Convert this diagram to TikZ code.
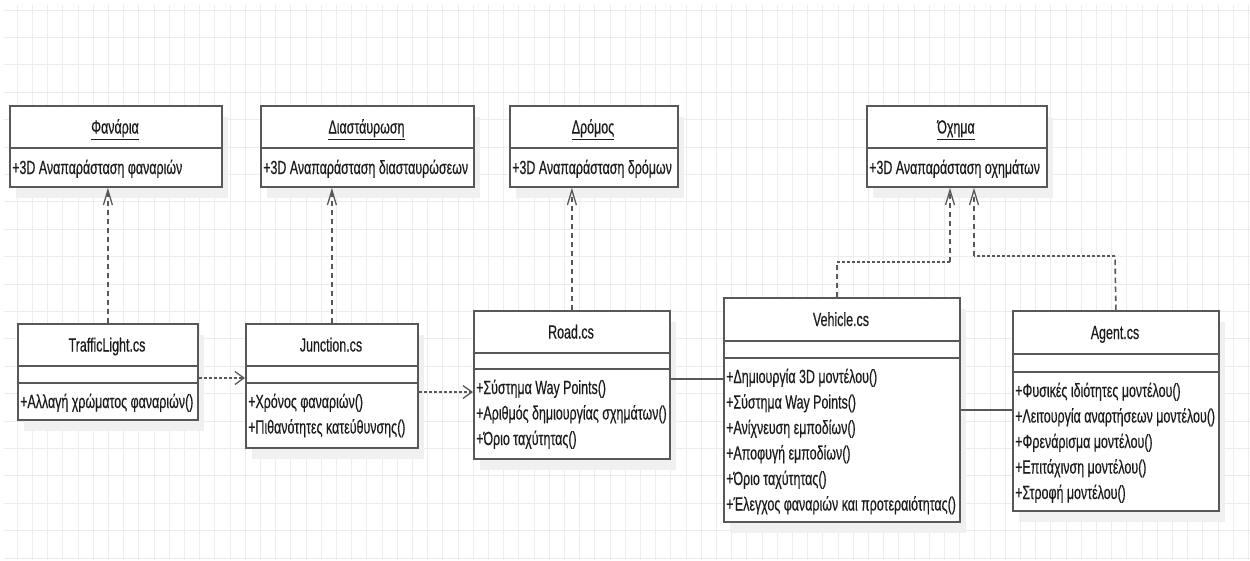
\documentclass[tikz,border=0pt]{standalone}
\usepackage{fontspec}
\newfontfamily\umlfont{Liberation Sans}[FakeStretch=0.655,FakeBold=0.35]
\usetikzlibrary{arrows.meta}

\definecolor{gridc}{RGB}{236,236,236}
\definecolor{shadowc}{RGB}{240,240,240}
\definecolor{edge}{RGB}{88,88,88}
\definecolor{ink}{RGB}{28,28,28}

\tikzset{
  classbox/.style={draw=edge, line width=1.8pt, fill=white, inner sep=0pt, anchor=north west},
  divider/.style={draw=edge, line width=1.8pt},
  umltext/.style={font=\umlfont\fontsize{19}{22}\selectfont, text=ink, inner sep=0pt},
  realizev/.style={draw=edge, line width=1.6pt, dash pattern=on 5.5pt off 3.5pt},
  realizeh/.style={draw=edge, line width=1.8pt, dash pattern=on 2.8pt off 2.2pt},
  dependh/.style={draw=edge, line width=1.8pt, dash pattern=on 2.8pt off 2.2pt},
  assoc/.style={draw=edge, line width=1.8pt},
  uptip/.style={-{Straight Barb[length=15pt,width=9pt,line width=1.3pt]}},
  sidetip/.style={-{Straight Barb[length=9pt,width=13pt,line width=1.3pt]}},
}

% class with name, attribute and operation compartments
% #1 name, #2 left, #3 top, #4 right, #5 first divider, #6 second divider, #7 bottom, #8 title, #9 operations
\newcommand\umlclass[9]{%
  \fill[shadowc] ({#2+7},{#3+12}) rectangle ({#4+7},{#7+12});
  \node[classbox, minimum width={(#4-#2)*1pt}, minimum height={(#7-#3)*1pt}] (#1) at (#2,#3) {};
  \draw[divider] (#2,#5) -- (#4,#5);
  \draw[divider] (#2,#6) -- (#4,#6);
  \node[umltext, anchor=base] (#1-title) at ({(#2+#4)/2},{(#3+#5)/2+7}) {#8};
  \foreach \m [count=\i from 0] in {#9} {
    \node[umltext, anchor=base west] (#1-op\i) at ({#2+3},{#6+25+25.5*\i}) {\m};
  }
}

% concept box: underlined name and one attribute
% #1 name, #2 left, #3 top, #4 right, #5 divider, #6 bottom, #7 title, #8 attribute
\newcommand\umlconcept[8]{%
  \fill[shadowc] ({#2+7},{#3+12}) rectangle ({#4+7},{#6+12});
  \node[classbox, minimum width={(#4-#2)*1pt}, minimum height={(#6-#3)*1pt}] (#1) at (#2,#3) {};
  \draw[divider] (#2,#5) -- (#4,#5);
  \node[umltext, anchor=base] (#1-title) at ({(#2+#4)/2},{(#3+#5)/2+7}) {\underline{#7}};
  \node[umltext, anchor=base west] (#1-attr) at ({#2+3},{(#5+#6)/2+7}) {#8};
}

\begin{document}
\begin{tikzpicture}[x=1pt,y=-1pt]
  \useasboundingbox (0,0) rectangle (1250,560);
  \fill[white] (0,0) rectangle (1250,560);

  % background grid
  \foreach \k in {0,...,81}
    \draw[gridc, line width=0.9pt] ({17.3+15.2*\k},5) -- ({17.3+15.2*\k},560);
  \foreach \k in {0,...,20}
    \draw[gridc, line width=0.9pt] (4,{10+27.4*\k}) -- (1250,{10+27.4*\k});

  % concepts
  \umlconcept{fan}{9}{105}{221}{148}{186}{Φανάρια}{+3D Αναπαράσταση φαναριών}
  \umlconcept{dia}{260}{105}{473}{148}{186}{Διαστάυρωση}{+3D Αναπαράσταση διασταυρώσεων}
  \umlconcept{dro}{509}{105}{677}{148}{186}{Δρόμος}{+3D Αναπαράσταση δρόμων}
  \umlconcept{ox}{866}{105}{1046}{148}{186}{Όχημα}{+3D Αναπαράσταση οχημάτων}

  % script classes
  \umlclass{tl}{17}{323}{197}{366}{383}{419}{TrafficLight.cs}
    {+Αλλαγή χρώματος φαναριών()}
  \umlclass{jn}{245}{323}{417}{366}{383}{447}{Junction.cs}
    {+Χρόνος φαναριών(), +Πιθανότητες κατεύθυνσης()}
  \umlclass{rd}{473}{310}{669}{353}{369}{458}{Road.cs}
    {+Σύστημα Way Points(), +Αριθμός δημιουργίας σχημάτων(), +Όριο ταχύτητας()}
  \umlclass{vh}{723}{297}{959}{341}{358}{521}{Vehicle.cs}
    {+Δημιουργία 3D μοντέλου(), +Σύστημα Way Points(), +Ανίχνευση εμποδίων(),
     +Αποφυγή εμποδίων(), +Όριο ταχύτητας(), +Έλεγχος φαναριών και προτεραιότητας()}
  \umlclass{ag}{1012}{310}{1218}{354}{372}{510}{Agent.cs}
    {+Φυσικές ιδιότητες μοντέλου(), +Λειτουργία αναρτήσεων μοντέλου(),
     +Φρενάρισμα μοντέλου(), +Επιτάχινση μοντέλου(), +Στροφή μοντέλου()}

  % connector levels and bends
  \coordinate (lvA) at (0,378);
  \coordinate (lvB) at (0,392);
  \coordinate (lvC) at (0,379);
  \coordinate (lvD) at (0,410);
  \coordinate (vbA) at (837,262);
  \coordinate (vbB) at (950,262);
  \coordinate (abA) at (1115,256);
  \coordinate (abB) at (974,256);

  % realizations
  \draw[realizev, uptip] (tl.north) -- (tl.north |- fan.south);
  \draw[realizev, uptip] (jn.north) -- (jn.north |- dia.south);
  \draw[realizev, uptip] (rd.north) -- (rd.north |- dro.south);
  \draw[realizev] (vbA |- vh.north) -- (vbA);
  \draw[realizeh] (vbA) -- (vbB);
  \draw[realizev, uptip] (vbB) -- (vbB |- ox.south);
  \draw[realizev] (ag.north) -- (abA);
  \draw[realizeh] (abA) -- (abB);
  \draw[realizev, uptip] (abB) -- (abB |- ox.south);

  % dependencies
  \draw[dependh, sidetip] (tl.east |- lvA) -- (jn.west |- lvA);
  \draw[dependh, sidetip] (jn.east |- lvB) -- (rd.west |- lvB);

  % associations
  \draw[assoc] (rd.east |- lvC) -- (vh.west |- lvC);
  \draw[assoc] (vh.east |- lvD) -- (ag.west |- lvD);
\end{tikzpicture}
\end{document}
